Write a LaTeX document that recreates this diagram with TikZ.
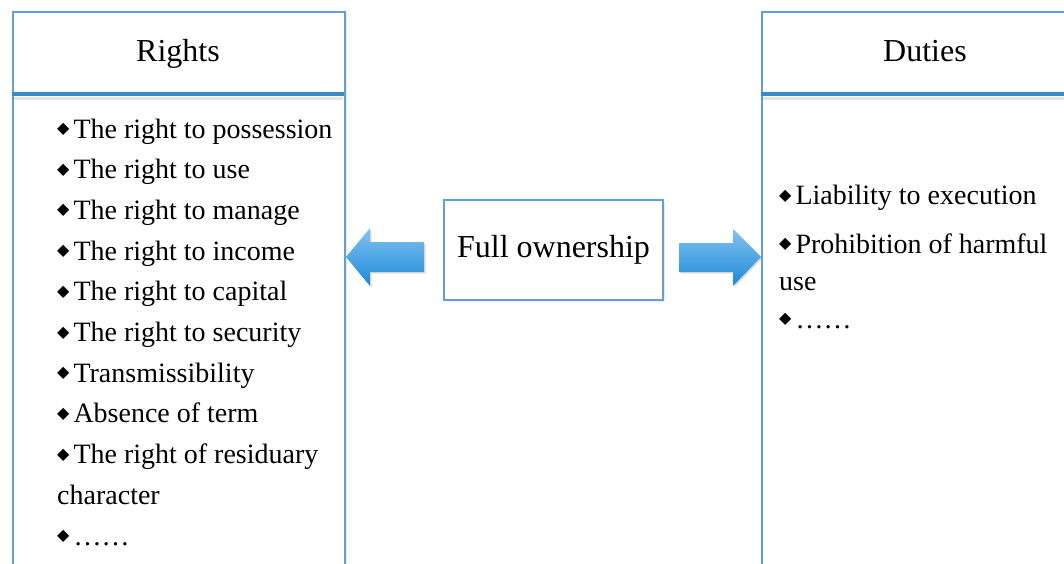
\documentclass[tikz,border=0pt]{standalone}
\usepackage{fontspec}
\setmainfont{Liberation Serif}
\newfontfamily\dvfont{DejaVu Sans}
\usetikzlibrary{calc,shadows}
\definecolor{boxblue}{RGB}{96,160,214}
\definecolor{divblue}{RGB}{52,140,202}
\definecolor{arrtop}{RGB}{130,196,240}
\definecolor{arrbot}{RGB}{28,136,216}
\newcommand{\dia}{{\raisebox{4.5pt}{\dvfont\fontsize{16}{16}\selectfont ◆}}\hspace{4pt}}
\tikzset{
  panel/.style={draw=boxblue, line width=2pt, fill=white,
    drop shadow={shadow xshift=1.5pt, shadow yshift=-1.5pt, opacity=0.18}},
  divider/.style={draw=divblue, line width=3.5pt},
  dividershadow/.style={draw=black, opacity=0.10, line width=3pt},
  headtext/.style={font=\fontsize{32}{36}\selectfont, anchor=base},
  listtext/.style={font=\fontsize{28}{40.7}\selectfont, anchor=base west, align=left, inner sep=0pt},
  blockarrow/.style={top color=arrtop, bottom color=arrbot, draw=none,
    drop shadow={shadow xshift=1.5pt, shadow yshift=-1.5pt, opacity=0.25}},
}
\begin{document}
\begin{tikzpicture}[x=1pt,y=-1pt]
\useasboundingbox (0,0) rectangle (1064,564);
% left panel
\node[panel, minimum width=332pt, minimum height=580pt, anchor=north west, inner sep=0pt] (rights) at (12,11) {};
\draw[dividershadow] (13,98.5) -- (343,98.5);
\draw[divider] (12,94) -- (344,94);
\node[headtext] (rightshead) at (178,62) {Rights};
\node[listtext] (rightslist) at (57,545) {\dia The right to possession\\
\dia The right to use\\
\dia The right to manage\\
\dia The right to income\\
\dia The right to capital\\
\dia The right to security\\
\dia Transmissibility\\
\dia Absence of term\\
\dia The right of residuary\\
character\\
\dia\ldots\ldots};
% right panel
\node[panel, minimum width=330pt, minimum height=580pt, anchor=north west, inner sep=0pt] (duties) at (761,11) {};
\draw[dividershadow] (762,98.5) -- (1070,98.5);
\draw[divider] (761,94) -- (1070,94);
\node[headtext] (dutieshead) at (925,62) {Duties};
\node[listtext, font=\fontsize{28}{37.5}\selectfont] (dutieslist) at (779,328) {\dia Liability to execution\\[11pt]
\dia Prohibition of harmful\\
use\\
\dia\ldots\ldots};
% center
\node[draw=boxblue, line width=1.5pt, fill=white, minimum width=219pt, minimum height=100pt,
  font=\fontsize{32}{36}\selectfont,
  drop shadow={shadow xshift=1.5pt, shadow yshift=-1.5pt, opacity=0.15}] (own) at (553.5,250) {Full ownership};
% arrows
\path[blockarrow] (rights.east |- 0,257) -- (370,228) -- (370,242) -- (424,242) -- (424,272) -- (370,272) -- (370,286) -- cycle;
\path[blockarrow] (duties.west |- 0,257) -- (733,229) -- (733,243) -- (679,243) -- (679,272) -- (733,272) -- (733,286) -- cycle;
\end{tikzpicture}
\end{document}
